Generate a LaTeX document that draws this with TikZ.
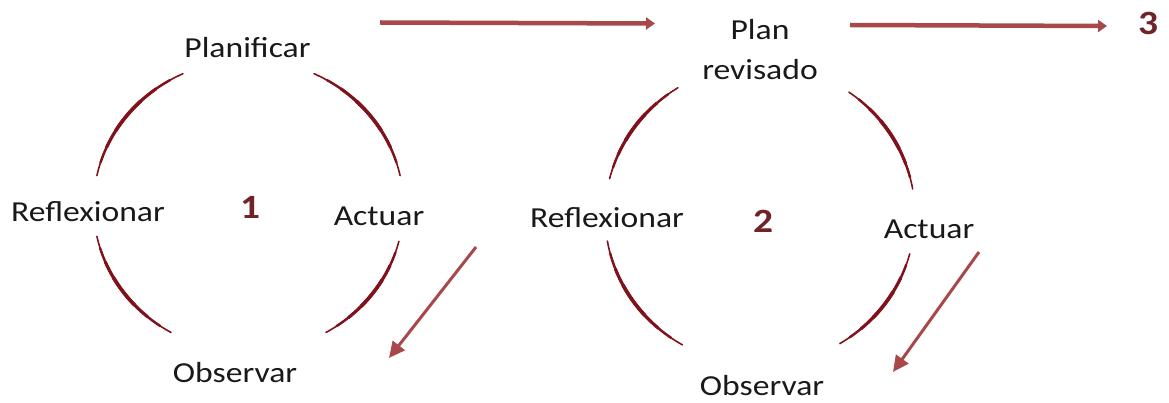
\documentclass[tikz,border=0pt]{standalone}
\usepackage{fontspec}
\setmainfont{Carlito}
\newfontfamily\lblfont[FakeStretch=1.16]{Carlito}
\usetikzlibrary{arrows.meta}
\definecolor{arcred}{RGB}{128,18,28}
\definecolor{arrred}{RGB}{168,72,74}
\definecolor{numred}{RGB}{112,36,40}
\definecolor{txtgray}{RGB}{25,25,25}
\newcommand\taparc[5]{%
  \foreach \f/\w in {0/1.6,0.1/2.4,0.22/3.1,0.36/3.6}{%
    \pgfmathsetmacro\sa{#2+\f*(#3-#2)}%
    \pgfmathsetmacro\ea{#3-\f*(#3-#2)}%
    \draw[cyc,line width=\w pt] (#1) ++(\sa:#4 and #5) arc[start angle=\sa,end angle=\ea,x radius=#4,y radius=#5];
  }}
\begin{document}
\begin{tikzpicture}[x=1pt,y=1pt,
  lbl/.style={inner sep=0pt,anchor=base,text=txtgray,font=\lblfont\fontsize{29}{40}\selectfont},
  num/.style={inner sep=0pt,anchor=base,text=numred,font=\lblfont\fontsize{34}{40}\selectfont\bfseries},
  cyc/.style={draw=arcred,line cap=round},
  toparr/.style={draw=arrred,line width=4.5pt,-{Triangle[length=9pt,width=12pt]}},
  diagarr/.style={draw=arrred,line width=3pt,-{Triangle[length=16pt,width=15pt]}}]
\useasboundingbox (0,0) rectangle (1169,402);
% cycle 1
\coordinate (c1) at (248.5,196);
\taparc{c1}{115}{168}{155}{146}
\taparc{c1}{12}{65}{155}{146}
\taparc{c1}{192}{240}{155}{146}
\taparc{c1}{300}{346}{155}{146}
\node[lbl] (planif) at (247.5,344) {Planificar};
\node[lbl] (refl1) at (88,180) {Reflexionar};
\node[num] (n1) at (250,183) {1};
\node[lbl] (act1) at (379,176) {Actuar};
\node[lbl] (obs1) at (235,20) {Observar};
% cycle 2
\coordinate (c2) at (760,187);
\taparc{c2}{122}{166}{155}{150}
\taparc{c2}{10}{55}{155}{150}
\taparc{c2}{190}{240}{155}{150}
\taparc{c2}{301}{345}{155}{150}
\node[lbl,anchor=center,align=center] (plan) at (760,352) {Plan\\revisado};
\node[lbl] (refl2) at (607,175) {Reflexionar};
\node[num] (n2) at (763,170) {2};
\node[lbl] (act2) at (929,164) {Actuar};
\node[lbl] (obs2) at (762,7) {Observar};
\node[num] (n3) at (1148,367) {3};
% arrows
\coordinate (a1s) at (380,379.5);
\coordinate (a1e) at (655,378.5);
\coordinate (a2s) at (850,377);
\coordinate (a2e) at (1107,376);
\coordinate (d1s) at (476,155);
\coordinate (d1e) at (389,44);
\coordinate (d2s) at (979,150);
\coordinate (d2e) at (893,30);
\draw[toparr] (a1s) -- (a1e);
\draw[toparr] (a2s) -- (a2e);
\draw[diagarr] (d1s) -- (d1e);
\draw[diagarr] (d2s) -- (d2e);
\end{tikzpicture}
\end{document}
